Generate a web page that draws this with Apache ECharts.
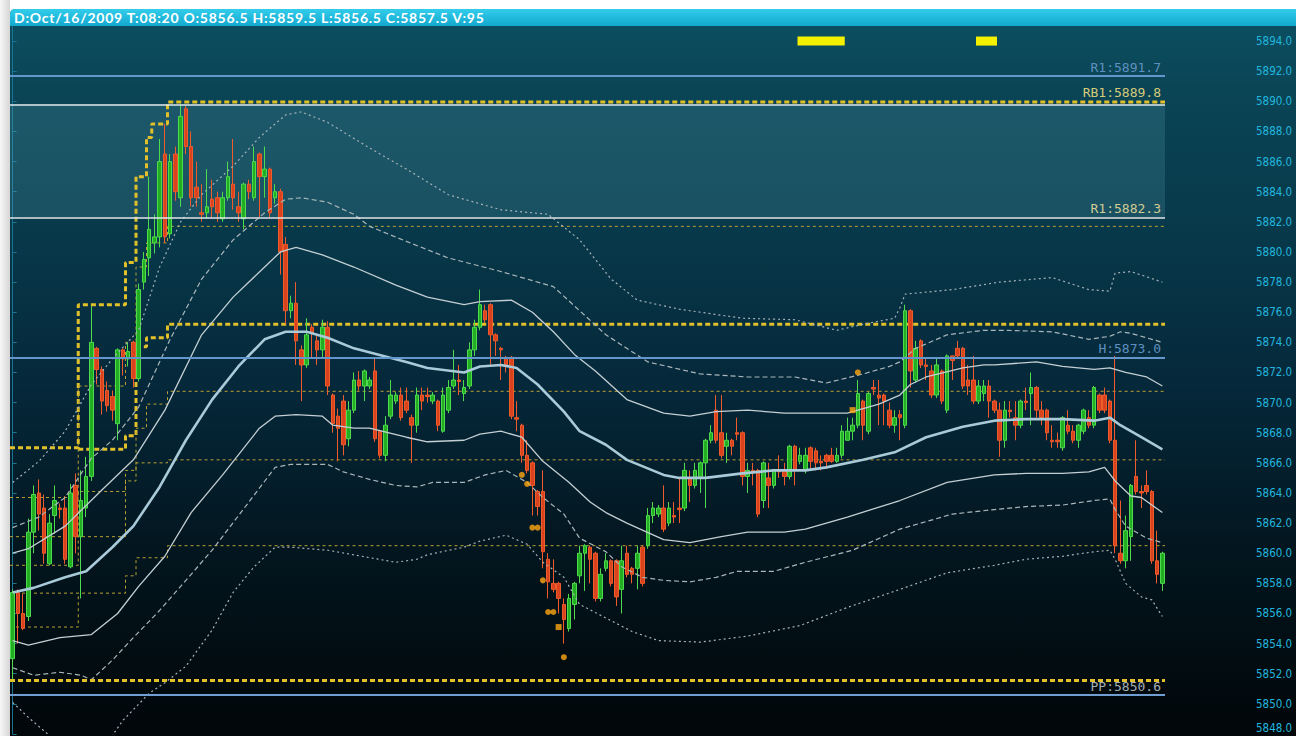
<!DOCTYPE html>
<html>
<head>
<meta charset="utf-8">
<title>Oct 16 2009 intraday</title>
<script src="https://cdn.jsdelivr.net/npm/echarts@6/dist/echarts.min.js"></script>
<style>
html, body { margin: 0; padding: 0; width: 1296px; height: 736px; overflow: hidden; background: #fff; }
.side { position: absolute; left: 0; top: 0; width: 10px; height: 736px; background: linear-gradient(to right, #f7f7f7, #d6d6d6); }
.frame {
  position: absolute; left: 10px; top: 9px; width: 1286px; height: 727px;
  border-top-left-radius: 5px; overflow: hidden;
  background: linear-gradient(to bottom, #0c5062 0%, #0a4455 12%, #073849 32%, #05283a 52%, #03161f 74%, #010609 100%);
}
.title-bar {
  height: 17px; line-height: 17px; padding-left: 4px; white-space: nowrap;
  background: linear-gradient(to bottom, #33cdeb, #12a8ce);
  color: #fff; font: bold 14px Lato, 'Open Sans', sans-serif; letter-spacing: 0.75px;
}
#chart { position: absolute; left: 0; top: 0; width: 1296px; height: 736px; }
</style>
</head>
<body>
<div class="side"></div>
<div class="frame"><div class="title-bar">D:Oct/16/2009 T:08:20 O:5856.5 H:5859.5 L:5856.5 C:5857.5 V:95</div></div>
<div id="chart"></div>
<script>
// ---- data ----
const slotCount = 236   // 220 bars + empty space on the right

const openPrices = [
  5853.0, 5857.4, 5856.0, 5855.8, 5861.4, 5864.0, 5863.0, 5859.3, 5862.5, 5863.0,
  5863.0, 5859.1, 5864.5, 5861.1, 5863.0, 5865.1, 5873.6, 5872.2, 5870.8, 5870.4,
  5868.6, 5873.5, 5872.9, 5874.0, 5871.6, 5878.0, 5879.6, 5880.6, 5881.0, 5886.5,
  5881.2, 5886.5, 5883.6, 5889.5, 5887.0, 5884.3, 5882.6, 5882.6, 5883.5, 5883.6,
  5882.2, 5883.6, 5884.5, 5883.0, 5882.2, 5884.5, 5883.6, 5886.5, 5885.0, 5885.5,
  5883.6, 5884.0, 5880.5, 5876.1, 5876.6, 5873.5, 5872.5, 5875.0, 5874.1, 5873.5,
  5875.0, 5870.5, 5869.1, 5870.1, 5867.6, 5869.5, 5871.5, 5871.1, 5871.1, 5872.1,
  5868.1, 5866.5, 5869.1, 5870.1, 5870.5, 5870.1, 5869.0, 5868.5, 5870.5, 5870.5,
  5870.1, 5870.1, 5868.1, 5869.5, 5871.1, 5871.5, 5870.6, 5871.1, 5873.5, 5875.0,
  5876.1, 5876.5, 5874.5, 5873.6, 5873.0, 5873.0, 5869.0, 5868.5, 5866.5, 5866.0,
  5864.1, 5864.1, 5859.6, 5858.0, 5858.0, 5856.6, 5855.0, 5856.6, 5858.5, 5860.0,
  5860.4, 5860.0, 5857.0, 5859.0, 5859.5, 5859.5, 5857.6, 5860.0, 5859.0, 5859.0,
  5860.4, 5860.5, 5862.5, 5862.6, 5863.0, 5862.0, 5862.5, 5863.0, 5863.0, 5865.0,
  5864.5, 5865.0, 5866.0, 5867.5, 5869.5, 5868.0, 5867.1, 5867.5, 5868.0, 5868.0,
  5865.1, 5865.5, 5865.5, 5863.5, 5865.0, 5864.5, 5865.5, 5865.5, 5865.1, 5867.1,
  5866.1, 5865.5, 5867.0, 5866.8, 5866.1, 5866.5, 5866.5, 5866.1, 5866.5, 5867.5,
  5868.1, 5868.5, 5870.1, 5868.1, 5871.0, 5870.5, 5870.5, 5869.5, 5868.5, 5869.2,
  5868.5, 5876.1, 5871.5, 5874.1, 5872.5, 5872.1, 5870.5, 5872.1, 5869.5, 5873.1,
  5873.6, 5873.6, 5871.5, 5871.5, 5870.1, 5870.6, 5871.1, 5870.1, 5869.5, 5867.5,
  5869.5, 5869.0, 5868.5, 5870.1, 5870.6, 5871.0, 5869.5, 5869.5, 5867.5, 5867.5,
  5867.0, 5868.5, 5868.1, 5867.5, 5868.1, 5869.0, 5868.5, 5870.5, 5870.5, 5870.1,
  5867.5, 5860.0, 5859.5, 5861.1, 5865.1, 5864.1, 5864.5, 5864.1, 5859.5, 5858.0
]
const closePrices = [
  5857.4, 5856.0, 5855.0, 5861.4, 5863.9, 5862.6, 5860.0, 5862.0, 5863.5, 5862.9,
  5859.6, 5864.0, 5861.1, 5863.5, 5865.1, 5874.0, 5872.2, 5870.1, 5869.8, 5869.5,
  5873.5, 5872.9, 5873.4, 5871.6, 5877.5, 5879.5, 5881.5, 5881.0, 5886.0, 5881.0,
  5886.0, 5884.0, 5889.0, 5887.0, 5883.6, 5883.6, 5882.5, 5883.0, 5883.0, 5882.6,
  5883.6, 5885.0, 5883.6, 5882.6, 5884.5, 5884.0, 5886.0, 5885.0, 5885.5, 5882.6,
  5884.0, 5880.0, 5876.1, 5876.6, 5874.1, 5872.5, 5874.5, 5874.6, 5873.5, 5875.0,
  5871.1, 5868.6, 5868.3, 5867.2, 5869.5, 5871.5, 5871.1, 5872.1, 5871.5, 5867.6,
  5866.5, 5868.5, 5870.5, 5870.5, 5869.0, 5869.5, 5868.5, 5870.5, 5870.1, 5870.4,
  5870.5, 5868.5, 5870.5, 5871.0, 5871.5, 5871.4, 5871.0, 5873.5, 5875.0, 5876.5,
  5875.5, 5874.5, 5874.1, 5873.5, 5872.5, 5869.1, 5868.9, 5866.5, 5865.5, 5864.5,
  5863.1, 5860.1, 5858.1, 5857.6, 5857.0, 5855.6, 5857.0, 5858.0, 5860.0, 5860.5,
  5859.6, 5857.0, 5858.6, 5859.5, 5858.0, 5857.1, 5859.5, 5858.6, 5858.6, 5860.0,
  5858.0, 5862.5, 5863.0, 5863.0, 5861.6, 5863.0, 5862.4, 5862.9, 5865.5, 5864.5,
  5865.5, 5866.0, 5867.5, 5868.0, 5867.5, 5866.5, 5867.5, 5867.1, 5867.9, 5865.1,
  5865.5, 5865.4, 5862.6, 5866.0, 5864.5, 5865.5, 5865.4, 5865.1, 5867.1, 5865.5,
  5866.5, 5866.5, 5866.1, 5866.0, 5866.0, 5866.1, 5866.1, 5866.5, 5868.1, 5868.1,
  5868.5, 5870.6, 5868.5, 5870.6, 5870.9, 5870.3, 5870.1, 5868.5, 5869.0, 5869.0,
  5876.1, 5872.1, 5873.6, 5872.5, 5872.4, 5870.5, 5872.5, 5870.1, 5873.1, 5872.8,
  5873.1, 5871.1, 5871.1, 5870.1, 5871.1, 5871.1, 5870.1, 5869.5, 5867.5, 5869.5,
  5869.4, 5868.5, 5870.1, 5870.0, 5871.0, 5869.5, 5869.0, 5868.0, 5867.4, 5867.4,
  5869.0, 5868.1, 5867.5, 5868.5, 5869.5, 5868.5, 5871.0, 5869.5, 5869.5, 5867.5,
  5860.5, 5859.5, 5861.5, 5864.5, 5864.1, 5864.0, 5864.1, 5859.5, 5858.6, 5860.0
]
const lowPrices = [
  5851.6, 5854.0, 5854.9, 5855.5, 5860.0, 5861.5, 5859.3, 5859.2, 5861.3, 5862.3,
  5859.3, 5859.0, 5860.0, 5857.0, 5862.4, 5864.8, 5871.2, 5869.2, 5869.4, 5868.8,
  5867.5, 5871.8, 5872.4, 5871.0, 5871.4, 5877.5, 5878.4, 5879.9, 5880.3, 5880.6,
  5880.9, 5883.4, 5883.0, 5886.5, 5883.0, 5883.0, 5882.0, 5882.2, 5882.3, 5882.0,
  5882.0, 5883.4, 5882.8, 5882.0, 5881.5, 5883.5, 5883.4, 5882.3, 5883.6, 5882.3,
  5883.2, 5878.5, 5875.2, 5875.6, 5872.5, 5870.1, 5872.3, 5873.0, 5872.5, 5873.0,
  5870.5, 5868.0, 5866.1, 5866.5, 5867.1, 5869.3, 5870.8, 5870.1, 5870.9, 5867.4,
  5866.3, 5866.1, 5868.9, 5869.9, 5868.8, 5869.3, 5866.0, 5868.0, 5869.5, 5870.0,
  5869.9, 5868.1, 5868.0, 5869.3, 5870.9, 5870.5, 5870.1, 5870.9, 5873.1, 5874.8,
  5875.3, 5872.5, 5873.1, 5871.5, 5872.0, 5868.9, 5868.1, 5866.0, 5865.3, 5862.5,
  5862.5, 5859.0, 5857.0, 5857.4, 5856.0, 5854.0, 5854.8, 5855.6, 5858.0, 5857.5,
  5858.0, 5856.8, 5856.8, 5858.8, 5857.8, 5856.5, 5856.0, 5858.4, 5858.0, 5857.6,
  5857.8, 5860.3, 5862.0, 5862.4, 5861.4, 5861.8, 5862.0, 5862.0, 5862.8, 5863.4,
  5864.3, 5864.0, 5863.0, 5867.3, 5867.3, 5866.3, 5866.0, 5866.5, 5867.5, 5864.5,
  5864.0, 5864.5, 5862.4, 5863.0, 5863.0, 5864.3, 5865.0, 5864.5, 5864.9, 5864.5,
  5865.9, 5865.3, 5865.6, 5865.5, 5865.5, 5865.6, 5866.0, 5866.0, 5866.3, 5867.5,
  5867.5, 5868.3, 5867.5, 5867.9, 5870.5, 5868.5, 5868.5, 5868.3, 5868.0, 5867.5,
  5868.3, 5871.0, 5871.3, 5872.3, 5871.5, 5870.3, 5870.3, 5869.9, 5869.3, 5871.5,
  5872.9, 5870.9, 5870.5, 5869.9, 5869.9, 5870.1, 5869.0, 5869.3, 5866.4, 5867.0,
  5869.0, 5867.5, 5868.3, 5869.5, 5868.5, 5869.0, 5868.5, 5867.5, 5867.0, 5867.0,
  5866.8, 5867.9, 5867.3, 5867.0, 5867.9, 5868.3, 5868.3, 5869.3, 5869.3, 5867.3,
  5860.0, 5859.3, 5859.0, 5859.5, 5863.9, 5863.0, 5863.9, 5859.3, 5858.0, 5857.5
]
const highPrices = [
  5857.6, 5857.6, 5857.3, 5862.3, 5864.5, 5864.9, 5863.9, 5862.6, 5864.5, 5863.3,
  5863.8, 5864.6, 5865.3, 5865.5, 5866.4, 5876.4, 5873.7, 5872.4, 5871.4, 5870.8,
  5873.6, 5873.6, 5874.0, 5874.1, 5877.9, 5880.0, 5885.0, 5882.5, 5887.5, 5888.5,
  5886.5, 5887.0, 5889.8, 5889.7, 5888.0, 5886.0, 5884.5, 5885.5, 5884.8, 5884.0,
  5884.0, 5886.0, 5887.5, 5884.0, 5884.6, 5884.8, 5887.0, 5886.6, 5887.0, 5885.6,
  5884.5, 5884.2, 5881.0, 5877.1, 5878.0, 5873.8, 5875.6, 5875.2, 5874.5, 5875.5,
  5875.4, 5870.6, 5869.6, 5870.5, 5870.1, 5872.0, 5872.1, 5872.2, 5871.7, 5873.0,
  5868.2, 5869.1, 5871.5, 5870.7, 5871.0, 5871.0, 5869.2, 5871.0, 5871.0, 5871.0,
  5870.7, 5870.2, 5871.0, 5871.5, 5873.5, 5872.5, 5871.5, 5874.0, 5875.5, 5877.5,
  5876.5, 5876.6, 5874.6, 5873.7, 5873.1, 5873.1, 5870.1, 5868.6, 5867.5, 5866.1,
  5864.2, 5865.5, 5860.0, 5859.6, 5858.1, 5857.0, 5857.3, 5858.1, 5860.5, 5860.6,
  5860.5, 5860.1, 5859.0, 5860.0, 5859.6, 5859.6, 5860.5, 5860.5, 5859.1, 5860.5,
  5860.5, 5863.0, 5863.4, 5863.2, 5864.5, 5863.4, 5863.4, 5865.0, 5866.0, 5865.5,
  5866.0, 5866.1, 5867.6, 5868.5, 5870.5, 5870.5, 5868.0, 5867.6, 5869.0, 5868.1,
  5866.0, 5866.0, 5865.6, 5866.1, 5866.0, 5865.6, 5866.5, 5866.0, 5867.2, 5867.2,
  5867.0, 5867.0, 5867.1, 5867.0, 5866.5, 5866.6, 5867.0, 5867.0, 5868.5, 5869.0,
  5869.0, 5871.5, 5870.2, 5870.7, 5871.5, 5871.5, 5870.6, 5870.0, 5869.5, 5869.5,
  5876.5, 5876.2, 5874.1, 5874.2, 5873.0, 5872.5, 5873.0, 5872.2, 5873.2, 5873.1,
  5874.1, 5873.7, 5872.5, 5873.1, 5871.5, 5871.5, 5871.5, 5870.2, 5870.0, 5870.1,
  5870.1, 5870.1, 5870.2, 5871.0, 5872.0, 5871.1, 5870.1, 5869.6, 5868.5, 5868.0,
  5869.1, 5869.5, 5868.5, 5868.6, 5869.6, 5869.5, 5871.1, 5870.6, 5871.0, 5870.2,
  5873.1, 5863.5, 5862.5, 5864.6, 5867.5, 5864.5, 5865.5, 5864.2, 5861.5, 5860.1
]

// bands, as [bar index, price]
const upper3 = [[0,5864.7],[5,5866.1],[10,5868.1],[15,5871.2],[19,5872.9],[24,5874.8],[28,5879.0],[32,5882.0],[36,5883.8],[42,5885.7],[47,5887.6],[52,5889.1],[55,5889.3],[60,5888.6],[68,5886.9],[75,5885.5],[83,5883.8],[93,5882.8],[102,5882.5],[108,5880.8],[114,5878.2],[119,5876.8],[127,5876.2],[139,5875.6],[149,5875.5],[157,5874.8],[162,5875.2],[168,5875.6],[169,5876.3],[170,5877.2],[179,5877.5],[188,5878.0],[198,5878.3],[205,5877.5],[209,5877.4],[210,5878.6],[213,5878.7],[219,5878.0]]
const upper2 = [[0,5861.7],[5,5862.4],[10,5863.7],[15,5866.3],[19,5867.5],[24,5869.7],[30,5874.2],[36,5878.2],[42,5880.8],[48,5882.6],[52,5883.5],[55,5883.6],[60,5883.3],[65,5882.5],[68,5881.7],[75,5880.7],[83,5879.6],[93,5878.7],[103,5877.7],[113,5874.5],[121,5872.7],[131,5871.9],[140,5871.7],[149,5871.7],[155,5871.3],[162,5871.9],[167,5872.4],[169,5872.7],[172,5873.6],[178,5874.5],[185,5874.8],[189,5874.8],[198,5874.7],[205,5874.2],[209,5874.4],[211,5874.7],[213,5874.6],[219,5874.0]]
const upper1 = [[0,5860.0],[3,5860.3],[10,5861.8],[17,5864.2],[23,5866.2],[29,5869.5],[36,5874.5],[42,5877.0],[48,5879.0],[51,5880.0],[54,5880.3],[59,5879.8],[65,5879.0],[73,5877.8],[79,5877.0],[86,5876.5],[89,5876.7],[95,5876.8],[99,5876.0],[103,5874.7],[107,5873.2],[111,5872.1],[117,5870.2],[124,5869.3],[129,5869.1],[134,5869.4],[140,5869.5],[147,5869.3],[151,5869.3],[159,5869.3],[165,5869.9],[169,5870.5],[171,5871.2],[174,5871.7],[181,5872.3],[185,5872.5],[187,5872.5],[195,5872.7],[200,5872.4],[206,5872.2],[209,5872.3],[212,5872.0],[216,5871.7],[219,5871.1]]
const middle = [[0,5857.4],[4,5857.7],[10,5858.4],[14,5858.8],[19,5860.4],[23,5861.8],[28,5864.4],[33,5867.5],[38,5870.2],[43,5872.4],[48,5874.2],[52,5874.7],[56,5874.7],[60,5874.3],[65,5873.6],[75,5872.7],[79,5872.3],[86,5872.0],[89,5872.4],[93,5872.5],[96,5872.3],[100,5871.2],[105,5869.4],[108,5868.1],[113,5867.2],[117,5866.2],[124,5865.2],[127,5865.0],[132,5865.0],[139,5865.3],[145,5865.5],[151,5865.5],[155,5865.7],[162,5866.2],[168,5866.7],[174,5867.7],[181,5868.4],[187,5868.8],[193,5868.9],[200,5868.9],[206,5868.8],[209,5869.0],[211,5868.5],[215,5867.7],[219,5866.9]]
const lower1 = [[0,5854.2],[3,5853.9],[9,5854.4],[15,5854.6],[20,5856.0],[24,5857.8],[29,5859.8],[34,5862.7],[40,5865.2],[47,5868.3],[50,5869.1],[54,5869.2],[59,5869.1],[61,5868.5],[65,5868.3],[68,5868.3],[75,5867.7],[79,5867.4],[86,5867.5],[89,5867.9],[93,5868.1],[97,5867.7],[101,5866.1],[106,5864.7],[110,5863.4],[113,5862.7],[117,5862.0],[124,5860.9],[129,5860.7],[135,5861.1],[140,5861.4],[147,5861.4],[151,5861.6],[159,5862.4],[169,5863.5],[178,5864.7],[187,5865.2],[193,5865.3],[200,5865.3],[205,5865.4],[208,5865.7],[210,5864.8],[213,5863.8],[215,5863.7],[219,5862.7]]
const lower2 = [[0,5852.4],[4,5851.9],[9,5852.1],[13,5851.9],[15,5851.6],[19,5852.9],[23,5854.4],[28,5856.2],[33,5858.2],[38,5860.2],[45,5863.4],[50,5865.7],[53,5865.9],[60,5865.9],[63,5865.4],[68,5864.9],[73,5864.5],[77,5864.4],[80,5864.7],[86,5864.7],[90,5865.2],[94,5865.5],[98,5864.7],[101,5863.7],[105,5862.6],[108,5861.0],[113,5860.1],[116,5859.1],[120,5858.4],[124,5858.2],[129,5858.1],[134,5858.4],[138,5858.8],[145,5858.8],[151,5859.4],[160,5860.2],[169,5861.6],[179,5862.6],[187,5862.9],[193,5863.1],[200,5863.2],[206,5863.5],[209,5863.6],[210,5862.9],[212,5861.8],[216,5861.0],[219,5860.7]]
const lower3 = [[0,5850.1],[3,5849.1],[7,5847.9],[9,5847.3],[15,5846.9],[19,5847.9],[21,5848.9],[26,5850.7],[29,5851.4],[33,5852.5],[38,5854.9],[42,5857.4],[46,5859.1],[50,5860.4],[53,5860.4],[60,5860.2],[73,5859.4],[77,5859.6],[79,5859.9],[86,5860.4],[89,5860.8],[94,5861.2],[98,5860.6],[101,5859.4],[105,5858.4],[108,5856.6],[113,5855.7],[118,5854.8],[123,5854.2],[131,5854.1],[140,5854.5],[150,5855.2],[159,5856.4],[169,5857.6],[178,5858.7],[187,5859.2],[193,5859.6],[200,5859.8],[206,5860.1],[209,5860.2],[210,5859.6],[212,5858.0],[215,5857.1],[217,5856.9],[219,5855.8]]

// stepped session levels, [bar position, price]
const stepHigh = [[-0.5,5867.0],[12.5,5867.0],[12.5,5876.5],[21.5,5876.5],[21.5,5879.3],[23.5,5879.3],[23.5,5885.0],[25.5,5885.0],[25.5,5887.6],[26.5,5887.6],[26.5,5888.5],[29.5,5888.5],[29.5,5889.95],[219.5,5889.95]]
const stepMid = [[12.5,5866.9],[21.5,5866.9],[21.5,5867.8],[23.5,5867.8],[23.5,5873.7],[25.5,5873.7],[25.5,5874.3],[29.5,5874.3],[29.5,5875.2],[219.5,5875.2]]
const stepThin1 = [[-0.5,5863.7],[12.5,5863.7],[12.5,5871.1],[21.5,5871.1],[21.5,5874.0],[23.5,5874.0],[23.5,5879.0],[25.5,5879.0],[25.5,5880.6],[29.5,5880.6],[29.5,5881.7],[219.5,5881.7]]
const stepThin2 = [[-0.5,5861.1],[21.5,5861.1],[21.5,5864.8],[23.5,5864.8],[23.5,5868.3],[25.5,5868.3],[25.5,5869.9],[29.5,5869.9],[29.5,5870.75],[219.5,5870.75]]
const stepThin3 = [[-0.5,5859.2],[12.5,5859.2],[12.5,5864.1],[21.5,5864.1],[21.5,5865.5],[23.5,5865.5],[23.5,5866.0],[29.5,5866.0],[29.5,5866.2],[219.5,5866.2]]
const stepThin4 = [[-0.5,5857.35],[21.5,5857.35],[21.5,5858.5],[23.5,5858.5],[23.5,5859.7],[29.5,5859.7],[29.5,5860.5],[219.5,5860.5]]
const stepThin5 = [[-0.5,5855.1],[12.5,5855.1],[12.5,5857.35]]

// pivot levels
const levelNames = ['R1', 'RB1', 'R1', 'H', 'PP']
const levelValues = [5891.7, 5889.8, 5882.3, 5873.0, 5850.6]
const supportDash = 5851.55
const zoneTop = 5889.8
const zoneBottom = 5882.3
const lineEnd = 219.5

// signal dots
const dotX = [97, 98, 99, 100, 101, 102, 103, 105, 161]
const dotY = [5865.2, 5864.6, 5861.7, 5861.7, 5858.2, 5856.1, 5856.1, 5853.1, 5872.0]
const squareX = [104, 160]
const squareY = [5855.1, 5869.5]

// yellow alert strips at the top
const alertFrom = [149.5, 183.5]
const alertTo = [158.5, 187.5]
const alertLow = 5893.7
const alertHigh = 5894.3

// ---- chart ----
const chart = echarts.init(document.getElementById('chart'), null, { renderer: 'svg' })

const categories = []
for (let i = 0; i < slotCount; i++) categories.push(String(i))
const candles = openPrices.map((o, i) => [o, closePrices[i], lowPrices[i], highPrices[i]])

const mono = "'DejaVu Sans Mono', monospace"
const narrow = "'DejaVu Sans Condensed', 'Liberation Sans Narrow', 'DejaVu Sans', sans-serif"
const lineColors = ['#6396cb', '#e2e8ea', '#e2e8ea', '#6396cb', '#6f9fd2']
const labelColors = ['#5f8fbf', '#d4ca78', '#d0cc94', '#5f8fbf', '#a4adb4']
const lineWidths = [2, 1.5, 1.5, 2, 2]

const levelLines = levelNames.map((name, i) => [
  {
    coord: [-0.5, levelValues[i]],
    lineStyle: { color: lineColors[i], width: lineWidths[i], type: 'solid' },
    label: {
      show: true,
      position: 'insideEndTop',
      formatter: name + ':' + levelValues[i].toFixed(1),
      color: labelColors[i],
      fontFamily: mono,
      fontSize: 13,
      distance: [4, i === 1 ? 5 : 2]
    }
  },
  { coord: [lineEnd, levelValues[i]] }
])
levelLines.push([
  { coord: [-0.5, supportDash], lineStyle: { color: '#e2c02a', width: 3, type: [5, 3] }, label: { show: false } },
  { coord: [lineEnd, supportDash] }
])

function band(name, data, color, width, type) {
  return {
    name, type: 'line', xAxisIndex: 1, data, z: 4,
    symbol: 'none', smooth: false, silent: true,
    lineStyle: { color, width, type }
  }
}
function step(name, data, color, width, type) {
  return {
    name, type: 'line', xAxisIndex: 1, data, z: 2,
    symbol: 'none', silent: true,
    lineStyle: { color, width, type }
  }
}

const option = {
  backgroundColor: 'transparent',
  animation: false,
  grid: { left: 10, right: 47, top: 26, bottom: 2, outerBoundsMode: 'none', containLabel: false },
  xAxis: [
    { type: 'category', data: categories, show: false, boundaryGap: true },
    { type: 'value', min: -0.5, max: slotCount - 0.5, show: false }
  ],
  yAxis: {
    type: 'value',
    position: 'right',
    min: 5848,
    max: 5895,
    interval: 2,
    axisLine: { show: true, lineStyle: { color: '#1c7590', width: 1 } },
    axisTick: { show: true, length: 4, lineStyle: { color: '#1c7590' } },
    splitLine: { show: false },
    axisLabel: {
      showMaxLabel: false,
      margin: 7,
      color: '#22b6de',
      fontFamily: narrow,
      fontSize: 11.5,
      verticalAlign: 'middle',
      verticalAlignMinLabel: 'bottom',
      formatter: v => (Math.abs(v % 2) < 1e-6 ? v.toFixed(1) : '')
    }
  },
  series: [
    {
      name: 'levels', type: 'line', xAxisIndex: 1, data: [], symbol: 'none', silent: true, z: 1,
      markArea: {
        silent: true,
        itemStyle: { color: 'rgba(120, 195, 215, 0.17)' },
        data: [[{ coord: [-0.5, zoneTop] }, { coord: [lineEnd, zoneBottom] }]]
      },
      markLine: { silent: true, symbol: 'none', animation: false, data: levelLines }
    },
    {
      name: 'alerts', type: 'line', xAxisIndex: 1, data: [], symbol: 'none', silent: true, z: 1,
      markArea: {
        silent: true,
        itemStyle: { color: '#f4f000' },
        data: alertFrom.map((a, i) => [{ coord: [a, alertHigh] }, { coord: [alertTo[i], alertLow] }])
      }
    },
    step('stepHigh', stepHigh, '#e2c02a', 3, [5, 3]),
    step('stepMid', stepMid, '#e2c02a', 3, [5, 3]),
    step('stepThin1', stepThin1, '#b9a033', 1, [3, 3]),
    step('stepThin2', stepThin2, '#b9a033', 1, [3, 3]),
    step('stepThin3', stepThin3, '#b9a033', 1, [3, 3]),
    step('stepThin4', stepThin4, '#b9a033', 1, [3, 3]),
    step('stepThin5', stepThin5, '#b9a033', 1, [3, 3]),
    {
      name: 'price', type: 'candlestick', xAxisIndex: 0, data: candles, z: 3,
      barWidth: 4,
      itemStyle: {
        color: '#22ad22', color0: '#d8421c',
        borderColor: '#4edb4e', borderColor0: '#ef5b2a', borderWidth: 1
      }
    },
    band('upper3', upper3, '#a6b2b7', 1.2, [2, 3]),
    band('upper2', upper2, '#aab6ba', 1.2, [5, 3]),
    band('upper1', upper1, '#c4cfd3', 1.3, 'solid'),
    band('middle', middle, '#a9cad8', 2.6, 'solid'),
    band('lower1', lower1, '#c4cfd3', 1.3, 'solid'),
    band('lower2', lower2, '#aab6ba', 1.2, [5, 3]),
    band('lower3', lower3, '#a6b2b7', 1.2, [2, 3]),
    {
      name: 'signals', type: 'scatter', xAxisIndex: 1, z: 5, silent: true,
      symbol: 'circle', symbolSize: 6,
      itemStyle: { color: '#ffa812' },
      data: dotX.map((x, i) => [x, dotY[i]])
    },
    {
      name: 'signalSquares', type: 'scatter', xAxisIndex: 1, z: 5, silent: true,
      symbol: 'rect', symbolSize: 6,
      itemStyle: { color: '#ffa812' },
      data: squareX.map((x, i) => [x, squareY[i]])
    }
  ]
}

chart.setOption(option)
</script>
</body>
</html>
